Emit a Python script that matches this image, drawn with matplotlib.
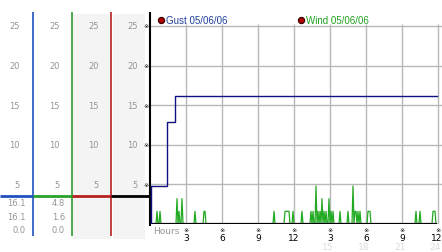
import numpy as np
import matplotlib
matplotlib.use('Agg')
import matplotlib.pyplot as plt

# gust, step changes (hours, value)
gust_hours = [0.0, 0.08, 1.4, 2.1, 23.9]
gust_vals = [0.0, 4.8, 12.9, 16.1, 16.1]

# wind, 5 minute readings - only the non calm ones listed, rest are 0
wind_idx = [7, 10, 27, 29, 32, 45, 54, 55, 124, 135, 136, 137, 138, 139, 143, 152,
            161, 163, 166, 168, 170, 172, 174, 176, 179, 181, 183, 190, 198,
            203, 205, 206, 208, 210, 218, 219, 220, 266, 270, 283, 284, 285]
wind_vals = [1.6, 1.6, 3.2, 1.6, 3.2, 1.6, 1.6, 1.6, 1.6, 1.6, 1.6, 1.6, 1.6, 1.6, 1.6, 1.6,
             1.6, 1.6, 4.8, 1.6, 1.6, 3.2, 1.6, 1.6, 3.2, 1.6, 1.6, 1.6, 1.6,
             4.8, 1.6, 1.6, 1.6, 1.6, 1.6, 1.6, 1.6, 1.6, 1.6, 1.6, 1.6, 1.6]
n_readings = 288

gust_stats = ['16.1', '16.1', '0.0']
wind_stats = ['4.8', '1.6', '0.0']
level_now = 3.5

scale_vals = [5, 10, 15, 20, 25]
hour_ticks = [3, 6, 9, 12, 15, 18, 21, 24]
hour_labels = ['3', '6', '9', '12', '3', '6', '9', '12']
pm_ticks = [15, 18, 21, 24]
pm_labels = ['15', '18', '21', '24']

wind = np.zeros(n_readings)
wind[wind_idx] = wind_vals
wind_hours = np.arange(n_readings) / 12.0

W, H = 442, 253
def v(py):
    # pixel row -> value
    return (225 - py) / 7.92

fig = plt.figure(figsize=(W / 100, H / 100), dpi=100)
fig.patch.set_facecolor('white')

blue = '#2050c0'
green = '#2ca02c'
red = '#b82020'
grey_txt = '#959595'

# left strips
ax_s = fig.add_axes([0, 13 / H, 150 / W, 227 / H])
ax_s.set_xlim(0, 150)
ax_s.set_ylim(v(240), v(13))
ax_s.axis('off')
ax_s.axvspan(72, 111, ymin=0, ymax=0.99, color='#f4f4f4', lw=0)
ax_s.axvspan(113, 145, ymin=0, ymax=0.99, color='#f4f4f4', lw=0)
ax_s.vlines([33, 72, 111], v(237), v(12), colors=[blue, green, red], lw=1.2)
ax_s.hlines([level_now] * 4, [0, 33, 72, 111], [33, 72, 111, 150],
            colors=[blue, green, red, 'black'], lw=2)
for xr in [20, 60, 99, 138]:
    for s in scale_vals:
        ax_s.text(xr, s, str(s), ha='right', va='center', fontsize=6, color=grey_txt)
for i, (g, w) in enumerate(zip(gust_stats, wind_stats)):
    yy = v(204 + i * 13.5)
    ax_s.text(26, yy, g, ha='right', va='center', fontsize=6, color=grey_txt)
    ax_s.text(65, yy, w, ha='right', va='center', fontsize=6, color=grey_txt)

# main chart
ax = fig.add_axes([150 / W, 28 / H, 24.3 * 12 / W, (225 - 13) / H])
ax.set_xlim(0, 24.3)
ax.set_ylim(0, v(13))
ax.axis('off')
ax.hlines(scale_vals, 0, 24.3, colors='#b8b8b8', lw=1, zorder=1)
ax.vlines(hour_ticks, 0, 25.25, colors='#b8b8b8', lw=1, zorder=1)

ax.plot(wind_hours, wind, color='#22aa22', lw=0.9, zorder=2)
ax.hlines(0, 0, 23.95, colors='black', lw=1.6, zorder=3)
ax.vlines(0, v(227), v(13), colors='black', lw=1.5, zorder=3, clip_on=False)
ax.plot(gust_hours, gust_vals, color='#101080', lw=1, drawstyle='steps-post', zorder=4)

for s in scale_vals:
    ax.text(-0.33, s, '\u203b', ha='center', va='center', fontsize=4.5, clip_on=False)
for h, lab in zip(hour_ticks, hour_labels):
    ax.text(h, v(231), '\u203b', ha='center', va='center', fontsize=4.5, clip_on=False)
    hx = min(h, 23.85)
    ax.text(hx, v(239), lab, ha='center', va='center', fontsize=6.5, color='black', clip_on=False)
for h, lab in zip(pm_ticks, pm_labels):
    ax.text(min(h - 0.15, 23.75), v(247.5), lab, ha='center', va='center', fontsize=6.5,
            color='#dcdcdc', clip_on=False)
ax.text(0.25, v(232), 'Hours', ha='left', va='center', fontsize=6.5, color=grey_txt, clip_on=False)

# titles
ax.plot([0.92], [v(20.5)], 'o', ms=4.5, mfc='#b00000', mec='#300000', mew=0.8, clip_on=False)
ax.text(1.33, v(20.5), 'Gust 05/06/06', ha='left', va='center', fontsize=7,
        family='Liberation Sans', color='#2040a0')
ax.plot([12.6], [v(20.5)], 'o', ms=4.5, mfc='#b00000', mec='#300000', mew=0.8, clip_on=False)
ax.text(13.0, v(20.5), 'Wind 05/06/06', ha='left', va='center', fontsize=7,
        family='Liberation Sans', color='#20a020')

fig.savefig('out.png', dpi=100)
